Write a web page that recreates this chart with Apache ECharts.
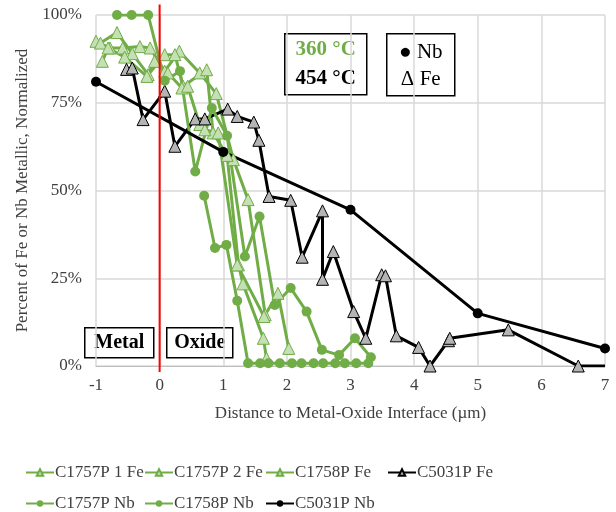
<!DOCTYPE html>
<html>
<head>
<meta charset="utf-8">
<script src="https://cdn.jsdelivr.net/npm/echarts@6/dist/echarts.min.js"></script>
<style>
  html, body { margin: 0; padding: 0; background: #fff; }
  #chart { width: 616px; height: 512px; }
</style>
</head>
<body>
<div id="chart"></div>
<script>
// Axis ticks
const xTicks = [-1, 0, 1, 2, 3, 4, 5, 6, 7];
const yTicks = [0, 25, 50, 75, 100];

// Series names (legend order)
const seriesNames = ['C1757P 1 Fe', 'C1757P 2 Fe', 'C1758P Fe', 'C5031P Fe', 'C1757P Nb', 'C1758P Nb', 'C5031P Nb'];

// [distance (µm), percent metallic]
const c1757p1Fe = [[-1.0, 92.5], [-0.78, 90.6], [-0.58, 90.6], [-0.31, 91], [-0.15, 90.6], [0.08, 84], [0.31, 89.7], [0.63, 83.5], [0.89, 77.6], [1.16, 58.8], [1.39, 47.4], [1.66, 14.6], [1.86, 20.7], [2.03, 5]];
const c1757p2Fe = [[-0.93, 92], [-0.67, 95], [-0.43, 89], [-0.18, 83], [0.08, 88.7], [0.24, 88.7], [0.37, 79.7], [0.74, 84.4], [0.84, 66.4], [1.06, 60], [1.24, 28.8], [1.31, 23.4], [1.63, 7.9], [1.68, 2.2]];
const c1758pFe = [[-0.9, 86.8], [-0.81, 90.6], [-0.55, 88], [-0.2, 82.5], [-0.08, 86.8], [0.13, 83.5], [0.35, 79.2], [0.44, 79.7], [0.63, 68.8], [0.71, 67.3], [0.92, 66.4], [1.22, 28.8], [1.64, 14.1]];
const c5031pFe = [[-0.52, 84.5], [-0.43, 84.9], [-0.26, 70.2], [0.08, 78.3], [0.24, 62.6], [0.56, 70.4], [0.71, 70.4], [1.07, 73.2], [1.22, 71.1], [1.48, 69.5], [1.56, 64.3], [1.72, 48.3], [2.06, 47.2], [2.24, 31], [2.56, 44.2], [2.56, 24.7], [2.73, 32.6], [3.05, 15.5], [3.24, 7.9], [3.49, 26], [3.55, 25.7], [3.72, 8.6], [4.07, 5.3], [4.25, 0], [4.54, 7.2], [4.56, 7.9], [5.48, 10.3], [6.58, 0], [7, 0]];
const c1757pNb = [[-0.67, 100], [-0.44, 100], [-0.18, 100], [0.08, 81.3], [0.32, 84], [0.56, 55.4], [0.82, 73.5], [1.06, 65.6], [1.34, 31.2], [1.57, 42.6], [1.81, 17.4], [2.06, 22.2], [2.31, 15.5], [2.55, 4.6], [2.82, 3.1], [3.07, 7.9], [3.32, 2.5]];
const c1758pNb = [[0.70, 48.5], [0.87, 33.6], [1.05, 34.5], [1.22, 18.6], [1.39, 0.8], [1.58, 0.8], [1.71, 0.8], [1.89, 0.8], [2.08, 0.8], [2.23, 0.8], [2.42, 0.8], [2.57, 0.8], [2.76, 0.8], [2.91, 0.8], [3.09, 0.8], [3.28, 0.8]];
const c5031pNb = [[-1, 81], [1, 61], [3, 44.5], [5, 15], [7, 5]];

// Metal/oxide interface position
const interfaceLine = [[0, 103], [0, -1.7]];

const GREEN = '#70AD47';
const GREEN_FILL = '#C5E0B4';
const BLACK = '#000000';
const GRAY_FILL = '#B4B4B4';
const FONT = 'Liberation Serif';
const TEXT = '#404040';

function feSeries(name, data, color, fill) {
  return {
    name, type: 'line', data,
    symbol: 'triangle', symbolSize: 12,
    lineStyle: { color, width: 3 },
    itemStyle: { color: fill, borderColor: color, borderWidth: 1 },
    emphasis: { disabled: true }
  };
}
function nbSeries(name, data, color, size) {
  return {
    name, type: 'line', data,
    symbol: 'circle', symbolSize: size,
    lineStyle: { color, width: 3 },
    itemStyle: { color, borderColor: color, borderWidth: 0 },
    emphasis: { disabled: true }
  };
}

// last point of C5031P Fe carries no marker
const c5031pFeData = c5031pFe.map((p, i) => i === c5031pFe.length - 1 ? { value: p, symbol: 'none' } : p);

const series = [
  feSeries(seriesNames[0], c1757p1Fe, GREEN, GREEN_FILL),
  feSeries(seriesNames[1], c1757p2Fe, GREEN, GREEN_FILL),
  feSeries(seriesNames[2], c1758pFe, GREEN, GREEN_FILL),
  feSeries(seriesNames[3], c5031pFeData, BLACK, GRAY_FILL),
  nbSeries(seriesNames[4], c1757pNb, GREEN, 10),
  nbSeries(seriesNames[5], c1758pNb, GREEN, 10),
  nbSeries(seriesNames[6], c5031pNb, BLACK, 10),
  {
    name: 'interface', type: 'line', data: interfaceLine,
    symbol: 'none', clip: false, silent: true, z: 10,
    lineStyle: { color: '#FF0000', width: 2 }
  }
];

// Legend grid placement
const legendPos = [
  [25, 464], [144, 464], [265, 464], [387, 464],
  [25, 495], [144, 495], [265, 495]
];
const legend = seriesNames.map((n, i) => ({
  data: [n],
  left: legendPos[i][0], top: legendPos[i][1],
  padding: 0,
  itemWidth: 28, itemHeight: 8, itemGap: 0,
  textStyle: { fontFamily: FONT, fontSize: 17, color: TEXT, padding: [0, 0, 0, -4] },
  selectedMode: false
}));

function box(x, y, w, h, children) {
  return {
    type: 'group', left: x, top: y,
    children: [{ type: 'rect', shape: { x: 0, y: 0, width: w, height: h }, style: { fill: '#fff', stroke: '#000', lineWidth: 1.5 } }].concat(children)
  };
}
function label(x, y, text, opts) {
  return {
    type: 'text', x, y,
    style: Object.assign({ text, fontFamily: FONT, fontSize: 21, fill: '#000', align: 'center', verticalAlign: 'middle' }, opts || {})
  };
}

const chart = echarts.init(document.getElementById('chart'), null, { renderer: 'canvas' });
chart.setOption({
  animation: false,
  backgroundColor: '#fff',
  grid: { left: 96, right: 11, top: 15, bottom: 146 },
  xAxis: {
    type: 'value', min: xTicks[0], max: xTicks[xTicks.length - 1], interval: 1,
    name: 'Distance to Metal-Oxide Interface (µm)', nameLocation: 'middle', nameGap: 39,
    nameTextStyle: { fontFamily: FONT, fontSize: 17, color: TEXT },
    axisLine: { lineStyle: { color: '#BFBFBF' } },
    axisTick: { show: false },
    axisLabel: { fontFamily: FONT, fontSize: 17, color: TEXT, margin: 11 },
    splitLine: { show: true, lineStyle: { color: '#D9D9D9', width: 1.5 } }
  },
  yAxis: {
    type: 'value', min: yTicks[0], max: yTicks[yTicks.length - 1], interval: 25,
    name: 'Percent of Fe or Nb Metallic, Normalized', nameLocation: 'middle', nameGap: 64,
    nameTextStyle: { fontFamily: FONT, fontSize: 17, color: TEXT },
    axisLine: { show: true, lineStyle: { color: '#D9D9D9', width: 1.5 } },
    axisTick: { show: false },
    axisLabel: { fontFamily: FONT, fontSize: 17, color: TEXT, margin: 14, formatter: '{value}%' },
    splitLine: { show: true, lineStyle: { color: '#D9D9D9', width: 1.5 } }
  },
  legend,
  series,
  graphic: [
    box(284, 33, 82, 61, [
      label(41, 16, '360 °C', { fontWeight: 'bold', fill: GREEN }),
      label(41, 45, '454 °C', { fontWeight: 'bold' })
    ]),
    box(386, 33, 68, 62, [
      label(34, 19, '● Nb', { fontSize: 21 }),
      label(34, 46, 'Δ Fe', { fontSize: 21 })
    ]),
    box(84, 327, 69, 30, [label(34.5, 15, 'Metal', { fontWeight: 'bold', fontSize: 20 })]),
    box(166, 327, 66, 30, [label(33, 15, 'Oxide', { fontWeight: 'bold', fontSize: 20 })])
  ]
});
</script>
</body>
</html>
